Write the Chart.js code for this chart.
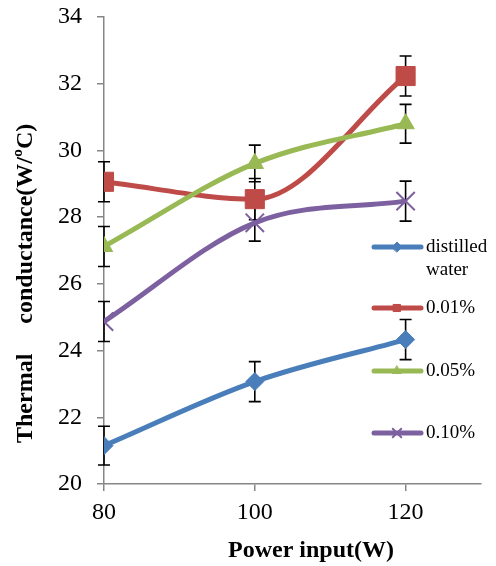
<!DOCTYPE html>
<html>
<head>
<meta charset="utf-8">
<script src="https://cdn.jsdelivr.net/npm/chart.js@4.4.1/dist/chart.umd.min.js"></script>
<style>
  html, body { margin: 0; padding: 0; background: #fff; }
  .chart-container { position: relative; width: 496px; height: 566px; }
</style>
</head>
<body>
<div class="chart-container"><canvas id="chart" width="496" height="566"></canvas></div>
<script>
const powerInput = [80, 100, 120]
const yTicks = [20, 22, 24, 26, 28, 30, 32, 34]

const distilledWater = [21.15, 23.07, 24.33]
const conc001 = [29.06, 28.54, 32.23]
const conc005 = [27.12, 29.61, 30.80]
const conc010 = [24.87, 27.83, 28.48]

const errDistilled = [0.58, 0.6, 0.6]
const err001 = [0.6, 0.62, 0.6]
const err005 = [0.6, 0.55, 0.58]
const err010 = [0.6, 0.55, 0.6]

const legendLabels = [['distilled', 'water'], ['0.01%'], ['0.05%'], ['0.10%']]

const SERIF = '"Liberation Serif", "Times New Roman", serif'
const AXIS_GREY = '#868686'

function points(values) {
  return powerInput.map((x, i) => ({ x: x, y: values[i] }))
}

function series(label, values, errors, color, style, radius, order) {
  return {
    label: label,
    data: points(values),
    errors: errors,
    borderColor: color,
    backgroundColor: color,
    pointBackgroundColor: color,
    pointBorderColor: color,
    pointStyle: style,
    pointRadius: radius,
    pointBorderWidth: style === 'crossRot' ? 2 : 1,
    borderWidth: 5,
    cubicInterpolationMode: 'monotone',
    fill: false,
    order: order,
  }
}

const datasets = [
  series('distilled water', distilledWater, errDistilled, '#4A7EBB', 'rectRot', 9, 4),
  series('0.01%', conc001, err001, '#BE4B48', 'rect', 13.5, 3),
  series('0.05%', conc005, err005, '#98B954', 'triangle', 10, 2),
  series('0.10%', conc010, err010, '#7D60A0', 'crossRot', 13, 1),
]

// vertical error bars with caps, drawn under the lines
const errorBars = {
  id: 'errorBars',
  beforeDatasetsDraw(chart) {
    const { ctx, scales: { x, y } } = chart
    ctx.save()
    ctx.strokeStyle = '#000'
    ctx.lineWidth = 1.6
    chart.data.datasets.forEach((ds) => {
      ds.data.forEach((p, i) => {
        const px = x.getPixelForValue(p.x)
        const top = y.getPixelForValue(p.y + ds.errors[i])
        const bottom = y.getPixelForValue(p.y - ds.errors[i])
        ctx.beginPath()
        ctx.moveTo(px, top)
        ctx.lineTo(px, bottom)
        ctx.moveTo(px - 6, top)
        ctx.lineTo(px + 6, top)
        ctx.moveTo(px - 6, bottom)
        ctx.lineTo(px + 6, bottom)
        ctx.stroke()
      })
    })
    ctx.restore()
  },
}

// legend sits inside the plot on the right
const insideLegend = {
  id: 'insideLegend',
  afterDraw(chart) {
    const { ctx } = chart
    const rowY = [247, 308, 371, 433]
    ctx.save()
    chart.data.datasets.forEach((ds, i) => {
      const y = rowY[i]
      ctx.strokeStyle = ds.borderColor
      ctx.lineWidth = 5
      ctx.lineCap = 'round'
      ctx.beginPath()
      ctx.moveTo(374, y)
      ctx.lineTo(421, y)
      ctx.stroke()
      ctx.fillStyle = ds.borderColor
      ctx.lineWidth = ds.pointStyle === 'crossRot' ? 2 : 1
      Chart.helpers.drawPoint(ctx, {
        pointStyle: ds.pointStyle,
        radius: ds.pointStyle === 'crossRot' ? 6 : 5,
        rotation: 0,
        borderWidth: ctx.lineWidth,
      }, 397, y)
      ctx.fillStyle = '#000'
      ctx.font = '19px ' + SERIF
      ctx.textAlign = 'left'
      ctx.textBaseline = 'middle'
      legendLabels[i].forEach((line, k) => {
        ctx.fillText(line, 426, y + k * 23)
      })
    })
    ctx.restore()
  },
}

// axis titles
const axisTitles = {
  id: 'axisTitles',
  afterDraw(chart) {
    const { ctx } = chart
    ctx.save()
    ctx.fillStyle = '#000'
    ctx.textBaseline = 'middle'
    ctx.font = 'bold 24px ' + SERIF
    ctx.textAlign = 'center'
    ctx.fillText('Power input(W)', 311, 551)
    ctx.translate(26, 443)
    ctx.rotate(-Math.PI / 2)
    ctx.textAlign = 'left'
    ctx.fillText('Thermal     conductance(W/ºC)', 0, 0)
    ctx.restore()
  },
}

const tickFont = { family: SERIF, size: 24 }

// keep the plot box fixed, labels may overhang it
function noScalePadding(scale) {
  scale.paddingTop = 0
  scale.paddingBottom = 0
  scale.paddingLeft = 0
  scale.paddingRight = 0
}

new Chart(document.getElementById('chart'), {
  type: 'line',
  data: { datasets: datasets },
  options: {
    responsive: false,
    devicePixelRatio: 1,
    animation: false,
    layout: { padding: { top: 17, right: 13, left: 0, bottom: 0 } },
    plugins: {
      legend: { display: false },
      tooltip: { enabled: false },
    },
    scales: {
      x: {
        type: 'linear',
        min: 80,
        max: 130,
        afterFit: (scale) => {
          scale.height = 82
          noScalePadding(scale)
        },
        afterBuildTicks: (scale) => {
          scale.ticks = powerInput.map((v) => ({ value: v }))
        },
        ticks: { font: tickFont, color: '#000', padding: 7, maxRotation: 0 },
        grid: { drawOnChartArea: false, tickLength: 7, color: AXIS_GREY, lineWidth: 1.5 },
        border: { color: AXIS_GREY, width: 1.5 },
      },
      y: {
        min: 20,
        max: 34,
        afterFit: (scale) => {
          scale.width = 104
          noScalePadding(scale)
        },
        afterBuildTicks: (scale) => {
          scale.ticks = yTicks.map((v) => ({ value: v }))
        },
        ticks: { font: tickFont, color: '#000', padding: 15 },
        grid: { drawOnChartArea: false, tickLength: 7, color: AXIS_GREY, lineWidth: 1.5 },
        border: { color: AXIS_GREY, width: 1.5 },
      },
    },
  },
  plugins: [errorBars, insideLegend, axisTitles],
})
</script>
</body>
</html>
